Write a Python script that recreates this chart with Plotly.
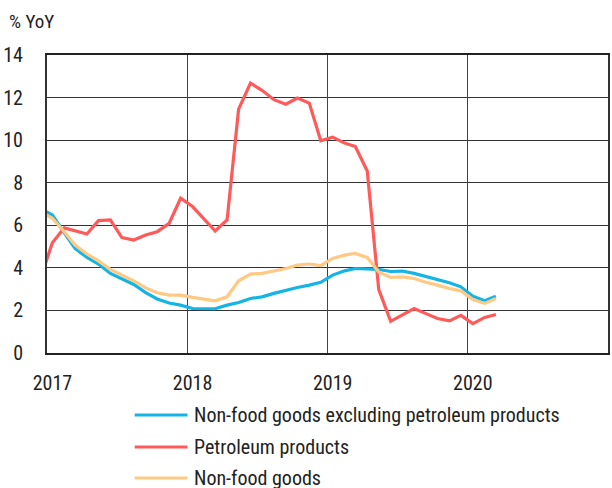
import pandas as pd
import plotly.graph_objects as go

# Monthly observations, Dec 2016 - Mar 2020 (plotted at mid-month)
months = pd.date_range("2016-12-01", "2020-03-01", freq="MS") + pd.Timedelta(days=14)

nonfood_ex_petrol = [
    6.80, 6.48, 5.65, 4.91, 4.49, 4.18, 3.74, 3.50, 3.22, 2.84, 2.54, 2.35, 2.25,
    2.09, 2.07, 2.08, 2.25, 2.37, 2.56, 2.64, 2.80, 2.95, 3.08, 3.19, 3.32,
    3.66, 3.86, 3.97, 3.94, 3.93, 3.83, 3.85, 3.74, 3.60, 3.45, 3.30, 3.11,
    2.67, 2.45, 2.67,
]
petroleum = [
    3.50, 5.18, 5.88, 5.75, 5.59, 6.22, 6.25, 5.42, 5.31, 5.54, 5.70, 6.09, 7.27,
    6.88, 6.30, 5.73, 6.25, 11.46, 12.68, 12.34, 11.90, 11.69, 11.98, 11.74, 9.97,
    10.14, 9.86, 9.70, 8.55, 2.98, 1.49, 1.80, 2.09, 1.85, 1.62, 1.51, 1.77,
    1.38, 1.67, 1.81,
]
nonfood = [
    6.63, 6.33, 5.70, 5.07, 4.65, 4.33, 3.93, 3.66, 3.39, 3.06, 2.83, 2.72, 2.72,
    2.61, 2.52, 2.45, 2.64, 3.39, 3.71, 3.74, 3.85, 3.97, 4.13, 4.18, 4.11,
    4.44, 4.60, 4.68, 4.49, 3.81, 3.55, 3.58, 3.50, 3.32, 3.19, 3.03, 2.92,
    2.51, 2.33, 2.56,
]

series_names = [
    "Non-food goods excluding petroleum products",
    "Petroleum products",
    "Non-food goods",
]
series_values = [nonfood_ex_petrol, petroleum, nonfood]
series_colors = ["#14B4E6", "#FF5A5A", "#FFC983"]

year_labels = ["2017", "2018", "2019", "2020"]
year_starts = pd.to_datetime([f"{y}-01-01" for y in year_labels])
label_pos = year_starts + pd.Timedelta(days=14)
y_ticks = list(range(0, 15, 2))

FONT = "Liberation Sans Narrow, Arial Narrow, Roboto Condensed, sans-serif"
TXT = "#222222"
x_range = ["2017-01-01", "2021-01-01"]

fig = go.Figure()
for name, vals, col in zip(series_names, series_values, series_colors):
    fig.add_trace(go.Scatter(
        x=months, y=vals, mode="lines", name=name,
        line=dict(color=col, width=3.2), showlegend=False,
    ))

# Invisible trace on the overlay axis so its year gridlines are drawn
fig.add_trace(go.Scatter(x=x_range, y=[None, None], xaxis="x2",
                         showlegend=False, hoverinfo="skip"))

L, R, T, B = 47, 2, 55, 135
W, H = 612, 488
pw, ph = W - L - R, H - T - B

fig.update_layout(
    width=W, height=H,
    margin=dict(l=L, r=R, t=T, b=B),
    paper_bgcolor="white", plot_bgcolor="white",
    font=dict(family=FONT, size=20, color=TXT),
    xaxis=dict(
        type="date", range=x_range,
        tickvals=label_pos, ticktext=year_labels,
        showgrid=False, zeroline=False,
        showline=True, linecolor="#222", linewidth=2, mirror=True,
        ticks="", ticklabelstandoff=11,
        tickfont=dict(size=20),
    ),
    xaxis2=dict(
        type="date", range=x_range, overlaying="x",
        tickvals=year_starts, showticklabels=False,
        showgrid=True, gridcolor="#444", gridwidth=1,
        zeroline=False, showline=False,
    ),
    yaxis=dict(
        range=[0, 14], tickvals=y_ticks,
        showgrid=True, gridcolor="#333", gridwidth=1,
        zeroline=False,
        showline=True, linecolor="#333", linewidth=2, mirror=True,
        ticks="", ticklabelstandoff=18,
        tickfont=dict(size=20),
    ),
)

# Unit label above the value axis
fig.add_annotation(
    text="% YoY", xref="paper", yref="paper",
    x=(7 - L) / pw, y=(H - B - 21) / ph,
    xanchor="left", yanchor="middle", showarrow=False,
    font=dict(size=19, family=FONT, color=TXT),
)

# Legend below the plot: coloured line swatches with labels
legend_rows = [415, 447, 478]
for name, col, row in zip(series_names, series_colors, legend_rows):
    yp = (H - B - row) / ph
    fig.add_shape(
        type="line", xref="paper", yref="paper",
        x0=(135 - L) / pw, x1=(188 - L) / pw, y0=yp, y1=yp,
        line=dict(color=col, width=3.2),
    )
    fig.add_annotation(
        text=name, xref="paper", yref="paper",
        x=(193 - L) / pw, y=yp, xanchor="left", yanchor="middle",
        showarrow=False, font=dict(size=20, family=FONT, color=TXT),
    )

fig.write_html("out.html")
